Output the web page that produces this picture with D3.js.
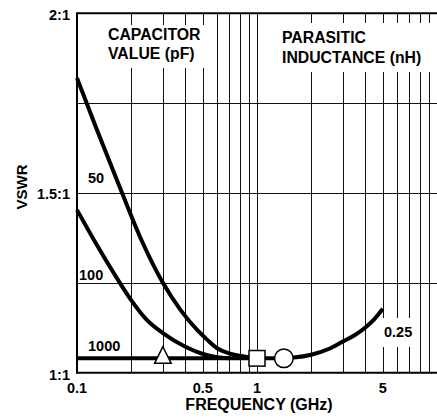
<!DOCTYPE html>
<html>
<head>
<meta charset="utf-8">
<script src="https://cdn.jsdelivr.net/npm/d3@7"></script>
<style>
  html, body { margin: 0; padding: 0; background: #fff; }
  svg { display: block; }
  text { font-family: "Liberation Sans", Arial, Helvetica, sans-serif; font-weight: bold; fill: #000; }
</style>
</head>
<body>
<svg id="chart" width="437" height="420"></svg>
<script>
// ---- data ----
const freq50   = [0.1, 0.129, 0.178, 0.23, 0.3, 0.373, 0.465, 0.528, 0.6, 0.7, 0.8, 1.0];
const vswr50   = [1.82, 1.676, 1.50, 1.365, 1.25, 1.177, 1.119, 1.092, 1.068, 1.054, 1.047, 1.04];
const freq100  = [0.1, 0.129, 0.173, 0.2, 0.245, 0.3, 0.4, 0.5, 0.6, 0.7];
const vswr100  = [1.453, 1.355, 1.25, 1.202, 1.146, 1.11, 1.072, 1.052, 1.043, 1.04];
const freq1000 = [0.1, 1.5];
const vswr1000 = [1.04, 1.04];
const freqL    = [1.4, 1.6, 2, 2.5, 3, 3.5, 4, 4.5, 5];
const vswrL    = [1.04, 1.042, 1.05, 1.066, 1.087, 1.105, 1.126, 1.15, 1.178];
const markerFreqs = [0.3, 1.0, 1.41];
const markerVswr  = 1.04;
const markerShapes = ["triangle", "square", "circle"];
const xTickValues = [0.1, 0.5, 1, 5];
const xTickLabels = ["0.1", "0.5", "1", "5"];
const yTickValues = [1, 1.5, 2];
const yTickLabels = ["1:1", "1.5:1", "2:1"];
const xGrid = [0.2,0.3,0.4,0.5,0.6,0.7,0.8,0.9,1,2,3,4,5,6,7,8,9];
const yGrid = [1.25, 1.5, 1.75];

// ---- scales ----
const svg = d3.select("#chart");
const x = d3.scaleLog().domain([0.1, 10]).range([77, 437]);
const y = d3.scaleLinear().domain([1, 2]).range([372.7, 13.3]);

// grid
svg.append("g").selectAll("line").data(xGrid).join("line")
  .attr("x1", d => Math.round(x(d)) + 0.5).attr("x2", d => Math.round(x(d)) + 0.5)
  .attr("y1", y(2)).attr("y2", y(1))
  .attr("stroke", "#111").attr("stroke-width", 1);
svg.append("g").selectAll("line").data(yGrid).join("line")
  .attr("x1", x(0.1)).attr("x2", x(10))
  .attr("y1", d => Math.round(y(d)) + 0.5).attr("y2", d => Math.round(y(d)) + 0.5)
  .attr("stroke", "#111").attr("stroke-width", 1);

// white label boxes
svg.append("rect").attr("x", 100).attr("y", 25).attr("width", 110).attr("height", 43).attr("fill", "#fff");
svg.append("rect").attr("x", 278).attr("y", 23).attr("width", 159).attr("height", 49).attr("fill", "#fff");
svg.append("rect").attr("x", 380).attr("y", 318).attr("width", 38).attr("height", 29).attr("fill", "#fff");

// curves
const line = d3.line().x(d => x(d[0])).y(d => y(d[1])).curve(d3.curveMonotoneX);
const series = [
  [freq50, vswr50],
  [freq100, vswr100],
  [freq1000, vswr1000],
  [freqL, vswrL]
];
series.forEach(([f, v]) => {
  svg.append("path").datum(f.map((d, i) => [d, v[i]]))
    .attr("d", line).attr("fill", "none")
    .attr("stroke", "#000").attr("stroke-width", 4)
    .attr("stroke-linecap", "butt");
});

// markers
markerFreqs.forEach((f, i) => {
  const cx = x(f), cy = y(markerVswr);
  const shape = markerShapes[i];
  let m;
  if (shape === "triangle") {
    m = svg.append("path").attr("d", `M${cx},${cy - 11.6} L${cx + 8.3},${cy + 5} L${cx - 8.3},${cy + 5} Z`);
  } else if (shape === "square") {
    m = svg.append("rect").attr("x", cx - 8).attr("y", cy - 7.8).attr("width", 16).attr("height", 15.6);
  } else {
    m = svg.append("circle").attr("cx", cx).attr("cy", cy).attr("r", 9.3);
  }
  m.attr("fill", "#fff").attr("stroke", "#000").attr("stroke-width", 1.5);
});

// frame
svg.append("line").attr("x1", x(0.1)).attr("x2", x(10)).attr("y1", y(2)).attr("y2", y(2))
  .attr("stroke", "#000").attr("stroke-width", 2);
svg.append("line").attr("x1", x(0.1)).attr("x2", x(0.1)).attr("y1", y(2) - 1).attr("y2", y(1) + 1)
  .attr("stroke", "#000").attr("stroke-width", 2);
svg.append("line").attr("x1", x(0.1) - 1).attr("x2", x(10)).attr("y1", y(1)).attr("y2", y(1))
  .attr("stroke", "#000").attr("stroke-width", 2);

// axis tick labels
svg.append("g").selectAll("text").data(xTickValues).join("text")
  .attr("x", d => x(d)).attr("y", 393).attr("text-anchor", "middle")
  .attr("font-size", 14.5).text((d, i) => xTickLabels[i]);
const yLabelY = [380, 199, 20];
svg.append("g").selectAll("text").data(yTickValues).join("text")
  .attr("x", 70).attr("y", (d, i) => yLabelY[i]).attr("text-anchor", "end")
  .attr("font-size", 14.5).text((d, i) => yTickLabels[i]);

// axis titles
svg.append("text").attr("x", 259).attr("y", 410).attr("text-anchor", "middle")
  .attr("font-size", 16).text("FREQUENCY (GHz)");
svg.append("text").attr("transform", "translate(27,187) rotate(-90)").attr("text-anchor", "middle")
  .attr("font-size", 15).text("VSWR");

// annotations
const ann = [
  ["CAPACITOR", 108, 40], ["VALUE (pF)", 108, 58.5],
  ["PARASITIC", 282, 43], ["INDUCTANCE (nH)", 282, 62.5],
  ["50", 88, 183], ["100", 79, 280], ["1000", 88, 350.5], ["0.25", 384, 337]
];
svg.append("g").selectAll("text").data(ann).join("text")
  .attr("x", d => d[1]).attr("y", d => d[2])
  .attr("font-size", (d, i) => i < 4 ? 15.8 : 14.5).text(d => d[0]);
</script>
</body>
</html>
